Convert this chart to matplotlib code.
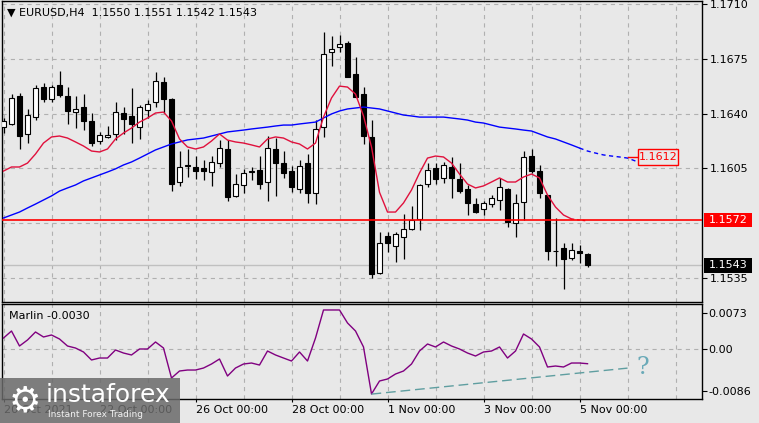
import matplotlib
matplotlib.use('Agg')
import matplotlib.pyplot as plt
import matplotlib.patches as mpatches
from matplotlib.transforms import blended_transform_factory
import numpy as np

plt.rcParams['lines.scale_dashes'] = False
plt.rcParams['font.family'] = ['DejaVu Sans']

# ---------------- data ----------------
opens = [1.16314, 1.16334, 1.16513, 1.16270, 1.16378, 1.16570, 1.16493, 1.16583, 1.16513, 1.16410,
         1.16442, 1.16353, 1.16225, 1.16251, 1.16270, 1.16404, 1.16385, 1.16314, 1.16423, 1.16474,
         1.16602, 1.16493, 1.15963, 1.16065, 1.16059, 1.16052, 1.16027, 1.16084, 1.16174, 1.15874,
         1.15944, 1.16030, 1.16040, 1.15963, 1.16174, 1.16084, 1.16033, 1.15918, 1.16084, 1.15893,
         1.16314, 1.16794, 1.16826, 1.16851, 1.16653, 1.16525, 1.16251, 1.15382, 1.15618, 1.15554,
         1.15612, 1.15663, 1.15727, 1.15950, 1.16052, 1.15989, 1.16059, 1.15982, 1.15918, 1.15822,
         1.15790, 1.15822, 1.15848, 1.15918, 1.15701, 1.15835, 1.16129, 1.16033, 1.15880, 1.15525,
         1.15541, 1.15477, 1.15519, 1.15500]
highs = [1.16372, 1.16525, 1.16532, 1.16429, 1.16583, 1.16596, 1.16583, 1.16672, 1.16570, 1.16513,
         1.16525, 1.16404, 1.16283, 1.16321, 1.16474, 1.16442, 1.16564, 1.16455, 1.16487, 1.16666,
         1.16634, 1.16500, 1.16161, 1.16174, 1.16129, 1.16104, 1.16129, 1.16231, 1.16231, 1.16014,
         1.16046, 1.16059, 1.16129, 1.16257, 1.16244, 1.16161, 1.16065, 1.16104, 1.16142, 1.16359,
         1.16922, 1.16896, 1.16903, 1.16864, 1.16762, 1.16570, 1.16359, 1.15644, 1.15644, 1.15644,
         1.15759, 1.15810, 1.15950, 1.16084, 1.16084, 1.16091, 1.16123, 1.16084, 1.15944, 1.15861,
         1.15842, 1.15880, 1.15989, 1.15925, 1.15886, 1.16161, 1.16174, 1.16072, 1.15880, 1.15733,
         1.15573, 1.15573, 1.15560, 1.15510]
lows = [1.16276, 1.16327, 1.16174, 1.16212, 1.16359, 1.16474, 1.16474, 1.16506, 1.16334, 1.16308,
        1.16295, 1.16193, 1.16206, 1.16244, 1.16231, 1.16270, 1.16212, 1.16238, 1.16372, 1.16442,
        1.16404, 1.15906, 1.15937, 1.15995, 1.15982, 1.15976, 1.15937, 1.16059, 1.15842, 1.15867,
        1.15893, 1.15976, 1.15918, 1.15842, 1.15874, 1.15989, 1.15899, 1.15893, 1.15829, 1.15823,
        1.16251, 1.16704, 1.16794, 1.16634, 1.16506, 1.16206, 1.15350, 1.15375, 1.15516, 1.15452,
        1.15471, 1.15656, 1.15656, 1.15931, 1.15950, 1.15957, 1.15861, 1.15893, 1.15752, 1.15765,
        1.15752, 1.15803, 1.15784, 1.15675, 1.15612, 1.15720, 1.16021, 1.15861, 1.15465, 1.15426,
        1.15279, 1.15465, 1.15445, 1.15420]
closes = [1.16353, 1.16500, 1.16257, 1.16391, 1.16564, 1.16493, 1.16570, 1.16519, 1.16417, 1.16429,
          1.16353, 1.16212, 1.16263, 1.16263, 1.16410, 1.16366, 1.16334, 1.16442, 1.16461, 1.16608,
          1.16493, 1.15950, 1.16059, 1.16072, 1.16033, 1.16033, 1.16091, 1.16180, 1.15867, 1.15950,
          1.16021, 1.16033, 1.15950, 1.16180, 1.16084, 1.16021, 1.15931, 1.16065, 1.15893, 1.16302,
          1.16781, 1.16813, 1.16845, 1.16634, 1.16506, 1.16257, 1.15375, 1.15573, 1.15573, 1.15631,
          1.15663, 1.15720, 1.15944, 1.16040, 1.15982, 1.16072, 1.15989, 1.15906, 1.15829, 1.15771,
          1.15829, 1.15861, 1.15931, 1.15707, 1.15829, 1.16123, 1.16033, 1.15893, 1.15522, 1.15519,
          1.15471, 1.15528, 1.15509, 1.15430]

ma_blue = [1.15733, 1.15752, 1.15771, 1.15797, 1.15822, 1.15848, 1.15874, 1.15905, 1.15925, 1.15944,
           1.15970, 1.15989, 1.16008, 1.16027, 1.16047, 1.16072, 1.16091, 1.16116, 1.16142, 1.16168,
           1.16187, 1.16206, 1.16219, 1.16232, 1.16238, 1.16244, 1.16257, 1.16270, 1.16283, 1.16289,
           1.16295, 1.16302, 1.16308, 1.16314, 1.16321, 1.16327, 1.16327, 1.16334, 1.16340, 1.16346,
           1.16372, 1.16398, 1.16417, 1.16430, 1.16436, 1.16442, 1.16436, 1.16430, 1.16417, 1.16404,
           1.16391, 1.16385, 1.16378, 1.16378, 1.16378, 1.16378, 1.16372, 1.16366, 1.16359, 1.16346,
           1.16340, 1.16327, 1.16314, 1.16308, 1.16302, 1.16295, 1.16289, 1.16270, 1.16251, 1.16238,
           1.16219, 1.16200, 1.16180, 1.16161, 1.16148, 1.16136, 1.16129, 1.16123, 1.16116, 1.16097,
           1.16084]
ma_red = [1.16033, 1.16059, 1.16059, 1.16084, 1.16142, 1.16212, 1.16251, 1.16257, 1.16244, 1.16219,
          1.16193, 1.16161, 1.16155, 1.16174, 1.16238, 1.16276, 1.16308, 1.16346, 1.16372, 1.16404,
          1.16410, 1.16353, 1.16238, 1.16187, 1.16174, 1.16187, 1.16225, 1.16270, 1.16231, 1.16219,
          1.16212, 1.16200, 1.16187, 1.16238, 1.16251, 1.16244, 1.16219, 1.16206, 1.16174, 1.16212,
          1.16378, 1.16500, 1.16576, 1.16570, 1.16525, 1.16385, 1.16187, 1.15897, 1.15771, 1.15771,
          1.15829, 1.15912, 1.16021, 1.16116, 1.16129, 1.16123, 1.16084, 1.16014, 1.15950, 1.15925,
          1.15938, 1.15963, 1.15989, 1.15963, 1.15963, 1.15995, 1.16014, 1.15989, 1.15880, 1.15803,
          1.15752, 1.15727, 1.15720, 1.15714]

marlin = [0.00224, 0.00367, 0.00061, 0.00184, 0.00347, 0.00245, 0.00286, 0.00204, 0.00061, 0.00020,
          -0.00061, -0.00224, -0.00184, -0.00184, -0.00020, -0.00082, -0.00122, 0.0, 0.0, 0.00143,
          0.00020, -0.00592, -0.00449, -0.00429, -0.00429, -0.00388, -0.00306, -0.00204, -0.00551, -0.00388,
          -0.00306, -0.00286, -0.00327, -0.00041, -0.00122, -0.00184, -0.00245, -0.00061, -0.00245, 0.00224,
          0.00796, 0.00796, 0.00796, 0.00531, 0.00367, 0.00041, -0.00918, -0.00653, -0.00612, -0.00510,
          -0.00449, -0.00306, -0.00041, 0.00102, 0.00041, 0.00143, 0.00061, 0.0, -0.00082, -0.00143,
          -0.00061, -0.00041, 0.00041, -0.00184, -0.00041, 0.00306, 0.00204, 0.00041, -0.00367, -0.00347,
          -0.00367, -0.00286, -0.00286, -0.00300]

trend_bars = [46, 78]
trend_vals = [-0.0092, -0.0039]

level_red = 1.1572
bid_price = 1.1543
ma_label = 1.1612

price_ticks = [1.1710, 1.1675, 1.1640, 1.1605, 1.1535]
price_grid = [1.1710, 1.1675, 1.1640, 1.1605, 1.1570, 1.1535]
ind_ticks = [0.0073, 0.0, -0.0086]
ind_tick_labels = ['0.0073', '0.00', '-0.0086']
date_bars = [0, 12, 24, 36, 48, 60, 72]
date_labels = ['20 Oct 2021', '22 Oct 00:00', '26 Oct 00:00', '28 Oct 00:00',
               '1 Nov 00:00', '3 Nov 00:00', '5 Nov 00:00']
title = '\u25BC EURUSD,H4  1.1550 1.1551 1.1542 1.1543'
ind_title = 'Marlin -0.0030'

# ---------------- figure ----------------
W, H = 759, 423
BG = '#e8e8e8'
GRID = '#b0b0b0'
fig = plt.figure(figsize=(W / 100, H / 100), dpi=100, facecolor=BG)

xl, xr = -0.1875, 87.31
ax = fig.add_axes([2 / W, 1 - 302 / H, 700 / W, 301 / H], facecolor=BG)
ind = fig.add_axes([2 / W, 1 - 399 / H, 700 / W, 95 / H], facecolor=BG)

for a in (ax, ind):
    a.set_xlim(xl, xr)
    for s in a.spines.values():
        s.set_color('black')
        s.set_linewidth(1.0)
    for k in range(0, 88, 6):
        a.axvline(k, color=GRID, lw=0.8, ls=(0, (3, 3)), zorder=0)

ax.set_ylim(1.15196, 1.17120)
for p in price_grid:
    ax.axhline(p, color=GRID, lw=0.8, ls=(0, (3, 3)), zorder=0)

n = len(opens)
xs = np.arange(n)
o = np.array(opens); c = np.array(closes); h = np.array(highs); l = np.array(lows)
ax.vlines(xs, l, h, color='black', lw=0.9, zorder=2)
up = c >= o
bottoms = np.minimum(o, c)
heights = np.maximum(np.abs(c - o), 0.000005)
faces = ['white' if u else 'black' for u in up]
ax.bar(xs, heights, bottom=bottoms, width=0.6, color=faces, edgecolor='black',
       linewidth=0.8, zorder=3)

# bid line
ax.axhline(bid_price, color='#c0c0c0', lw=1.0, zorder=1)
# moving averages
nb = len(ma_blue)
ax.plot(np.arange(73), ma_blue[:73], color='#0000ff', lw=1.0, zorder=4)
ax.plot(np.arange(72, nb), ma_blue[72:], color='#0000ff', lw=1.0, ls=(0, (3, 2.5)), zorder=4)
ax.plot(np.arange(72), ma_red[:72], color='#e0103c', lw=1.0, zorder=4)
ax.plot(np.arange(71, len(ma_red)), ma_red[71:], color='#e0103c', lw=1.0, ls=(0, (2, 2)), zorder=4)
# level
ax.axhline(level_red, color='#ff0000', lw=1.2, zorder=5)

# MA label near the end of blue line
ax.plot([78.1, 79.3], [ma_label, ma_label], color='#ff0000', lw=1.0, zorder=6)
ax.add_patch(mpatches.Rectangle((79.3, ma_label - 0.00051), 5.0, 0.00102, facecolor=BG,
                                edgecolor='#ff0000', lw=1.0, zorder=6))
ax.text(81.8, ma_label, '%.4f' % ma_label, color='#ff0000', fontsize=8, ha='center',
        va='center', zorder=7)

# right axis
ax.yaxis.tick_right()
ax.set_yticks(price_ticks)
ax.set_yticklabels(['%.4f' % p for p in price_ticks])
ax.tick_params(axis='y', direction='out', length=3.5, width=0.8, pad=2, labelsize=8,
               colors='black')
ax.set_xticks([])

bt = blended_transform_factory(ax.transAxes, ax.transData)
for price, col in ((level_red, '#ff0000'), (bid_price, '#000000')):
    ax.add_patch(mpatches.Rectangle((1.003, price - 0.00046), 0.0686, 0.00092, transform=bt,
                                    facecolor=col, edgecolor='none', clip_on=False, zorder=8))
    ax.text(1.003 + 0.0343, price, '%.4f' % price, transform=bt, color='white', fontsize=8,
            ha='center', va='center', clip_on=False, zorder=9)

fig.text(7 / W, 1 - 13 / H, title, fontsize=8, ha='left', va='center', color='black')

# ---------------- indicator ----------------
ind.set_ylim(-0.01020, 0.00918)
ind.axhline(0.0, color=GRID, lw=0.8, ls=(0, (3, 3)), zorder=0)
ind.plot(xs, marlin, color='#800080', lw=1.0, zorder=3)
ind.plot(trend_bars, trend_vals, color='#5f9ea0', lw=1.0, ls=(0, (7, 3.5)), zorder=3)
ind.text(79.9, -0.0037, '?', color='#6aaab8', fontsize=17, family='DejaVu Serif',
         ha='center', va='center', zorder=4)
ind.yaxis.tick_right()
ind.set_yticks(ind_ticks)
ind.set_yticklabels(ind_tick_labels)
ind.tick_params(axis='y', direction='out', length=3.5, width=0.8, pad=1, labelsize=8)
ind.set_xticks(date_bars)
ind.set_xticklabels(date_labels)
ind.tick_params(axis='x', direction='out', length=2.5, width=0.8, pad=1.5, labelsize=8)
for lab in ind.get_xticklabels():
    lab.set_ha('left')
ind.text(7 / 700, 1 - 12 / 95, ind_title, transform=ind.transAxes, fontsize=8,
         ha='left', va='center')

# ---------------- watermark ----------------
fig.patches.append(mpatches.Rectangle((0, 0), 180 / W, 45 / H, transform=fig.transFigure,
                                      facecolor='#6a6a6a', alpha=0.85, edgecolor='none',
                                      zorder=20))
fig.text(25 / W, 1 - 401 / H, '\u2699', color='white', fontsize=26, ha='center',
         va='center', zorder=21)
fig.text(46 / W, 1 - 395 / H, 'instaforex', color='white', fontsize=18, ha='left',
         va='center', zorder=21)
fig.text(48 / W, 1 - 414 / H, 'Instant Forex Trading', color='#f0f0f0', fontsize=6.5,
         ha='left', va='center', zorder=21)

fig.savefig('out.png', dpi=100, facecolor=BG)
